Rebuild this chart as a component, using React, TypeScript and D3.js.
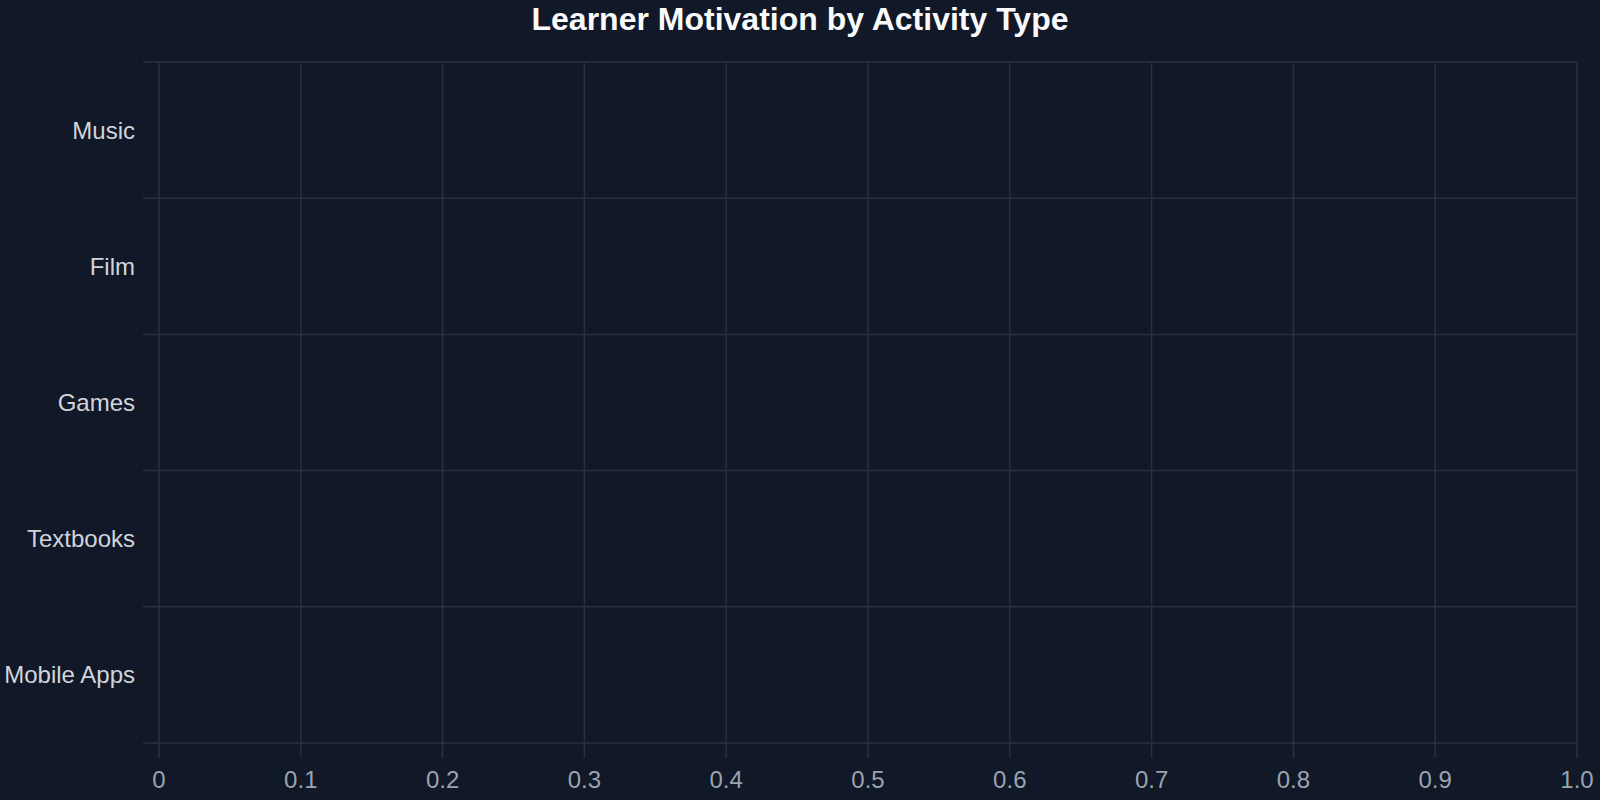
import React, { useEffect, useRef } from "react";
import * as d3 from "d3";

const title = "Learner Motivation by Activity Type";
const categories = ["Music", "Film", "Games", "Textbooks", "Mobile Apps"];
const values = [0, 0, 0, 0, 0];
const xTicks = [0, 0.1, 0.2, 0.3, 0.4, 0.5, 0.6, 0.7, 0.8, 0.9, 1.0];
const xTickLabels = ["0", "0.1", "0.2", "0.3", "0.4", "0.5", "0.6", "0.7", "0.8", "0.9", "1.0"];

const W = 1600;
const H = 800;
const M = { left: 159, right: 23, top: 62, bottom: 57 };
const BG = "#111827";
const GRID = "#283041";

export default function App() {
  const ref = useRef<SVGSVGElement>(null);

  useEffect(() => {
    document.body.style.margin = "0";
    document.body.style.background = BG;
    const svg = d3.select(ref.current);
    svg.selectAll("*").remove();

    const x = d3.scaleLinear().domain([0, 1]).range([M.left, W - M.right]);
    const y = d3.scaleBand<string>().domain(categories).range([M.top, H - M.bottom]).padding(0);

    svg.append("rect").attr("width", W).attr("height", H).attr("fill", BG);

    // vertical grid lines + ticks
    svg
      .append("g")
      .selectAll("line")
      .data(xTicks)
      .join("line")
      .attr("x1", (d) => x(d))
      .attr("x2", (d) => x(d))
      .attr("y1", M.top)
      .attr("y2", H - M.bottom + 15)
      .attr("stroke", GRID)
      .attr("stroke-width", 1.5);

    // horizontal band boundaries
    const bounds = categories.map((c) => y(c) as number).concat([H - M.bottom]);
    svg
      .append("g")
      .selectAll("line")
      .data(bounds)
      .join("line")
      .attr("x1", M.left - 16)
      .attr("x2", x(1))
      .attr("y1", (d) => d)
      .attr("y2", (d) => d)
      .attr("stroke", GRID)
      .attr("stroke-width", 1.5);

    // bars (values)
    svg
      .append("g")
      .selectAll("rect")
      .data(values)
      .join("rect")
      .attr("x", x(0))
      .attr("y", (_, i) => (y(categories[i]) as number) + y.bandwidth() * 0.2)
      .attr("width", (d) => x(d) - x(0))
      .attr("height", y.bandwidth() * 0.6)
      .attr("fill", "#60a5fa");

    // y labels
    svg
      .append("g")
      .selectAll("text")
      .data(categories)
      .join("text")
      .attr("x", 135)
      .attr("y", (d) => (y(d) as number) + y.bandwidth() / 2)
      .attr("dy", "0.35em")
      .attr("text-anchor", "end")
      .attr("font-family", "Liberation Sans, Arial, sans-serif")
      .attr("font-size", 24)
      .attr("fill", "#d1d5db")
      .text((d) => d);

    // x tick labels
    svg
      .append("g")
      .selectAll("text")
      .data(xTicks)
      .join("text")
      .attr("x", (d) => x(d))
      .attr("y", 788)
      .attr("text-anchor", "middle")
      .attr("font-family", "Liberation Sans, Arial, sans-serif")
      .attr("font-size", 24)
      .attr("fill", "#9ca3af")
      .text((_, i) => xTickLabels[i]);

    // title
    svg
      .append("text")
      .attr("x", 800)
      .attr("y", 30)
      .attr("text-anchor", "middle")
      .attr("font-family", "Liberation Sans, Arial, sans-serif")
      .attr("font-size", 32)
      .attr("font-weight", "bold")
      .attr("fill", "#f9fafb")
      .text(title);
  }, []);

  return (
    <div style={{ position: "fixed", left: 0, top: 0, width: W, height: H, background: BG }}>
      <svg ref={ref} width={W} height={H} style={{ display: "block" }} />
    </div>
  );
}
